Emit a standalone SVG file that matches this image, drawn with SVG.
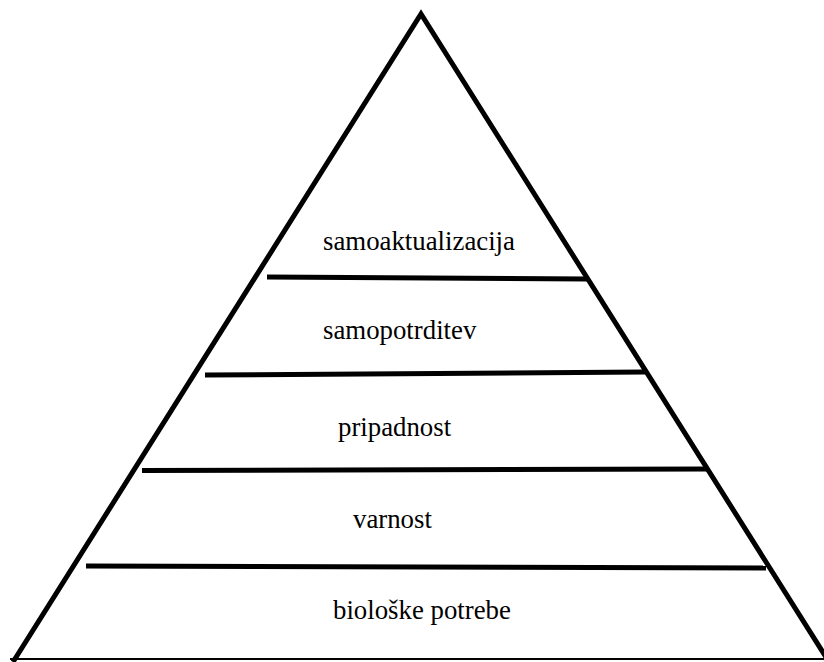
<svg xmlns="http://www.w3.org/2000/svg" width="824" height="662" viewBox="0 0 824 662">
<style>
.edge{fill:none;stroke:#000;stroke-width:5;stroke-linejoin:miter}
.base{stroke:#000;stroke-width:2;fill:none}
.lvl{stroke:#000;stroke-width:5;fill:none}
.lbl{font-family:"Liberation Serif","Times New Roman",serif;font-size:26.8px;fill:#000}
</style>
<rect width="824" height="662" fill="#fff"/>
<g id="pyramid">
<polyline class="edge" points="13,662 421,14 829,662"/>
<line class="base" x1="10" y1="659" x2="824" y2="659"/>
</g>
<g id="connectors">
<line class="lvl" x1="267" y1="277" x2="587" y2="279"/>
<line class="lvl" x1="205" y1="375" x2="645" y2="372"/>
<line class="lvl" x1="142" y1="470.5" x2="707" y2="469"/>
<line class="lvl" x1="86" y1="566" x2="766" y2="568"/>
</g>
<g id="level5"><text class="lbl" x="323" y="250">samoaktualizacija</text></g>
<g id="level4"><text class="lbl" x="323" y="339">samopotrditev</text></g>
<g id="level3"><text class="lbl" x="338" y="436">pripadnost</text></g>
<g id="level2"><text class="lbl" x="353" y="528">varnost</text></g>
<g id="level1"><text class="lbl" x="333" y="619">biološke potrebe</text></g>
</svg>
